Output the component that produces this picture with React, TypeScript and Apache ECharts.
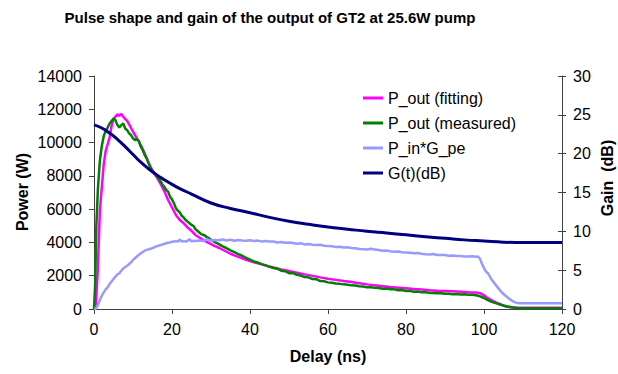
import React, { useEffect, useRef } from "react";
import * as echarts from "echarts";

// Delay (ns) and output power (W) of the fitted pulse
const fitting: [number, number][] = [
  [0, 0], [0.5, 300], [1, 2500], [1.5, 5900], [2, 7300], [2.5, 8700], [3, 9500], [3.5, 9900],
  [4, 10300], [4.5, 11000], [5, 11400], [5.5, 11550], [6, 11700], [6.5, 11600], [7, 11720],
  [7.5, 11550], [8, 11420], [8.5, 11300], [9, 11100], [10, 10650], [11, 10250], [12, 9850],
  [13, 9350], [14, 8800], [15, 8300], [16, 7950], [17, 7550], [18, 7100], [19, 6550], [20, 6100],
  [21, 5650], [22, 5350], [23, 5150], [24, 4900], [25, 4700], [26, 4450], [27, 4300], [28, 4150],
  [29, 4020], [30, 3900], [31, 3780], [32, 3680], [33, 3560], [34, 3440], [35, 3320], [36, 3220],
  [37, 3130], [38, 3050], [39, 2960], [40, 2880], [42, 2740], [44, 2620], [46, 2500], [48, 2380],
  [50, 2280], [52, 2180], [54, 2080], [56, 1990], [58, 1900], [60, 1820], [62, 1750], [64, 1680],
  [66, 1620], [68, 1550], [70, 1480], [72, 1420], [74, 1370], [76, 1320], [78, 1280], [80, 1240],
  [82, 1200], [84, 1170], [86, 1130], [88, 1100], [90, 1080], [92, 1060], [94, 1040], [96, 1010],
  [98, 990], [99, 950], [100, 820], [101, 650], [102, 520], [103, 400], [104, 300], [105, 200],
  [106, 140], [107, 100], [108, 90], [110, 80], [115, 80], [120, 80],
];

// Measured output power (W)
const measured: [number, number][] = [
  [0, 0], [0.3, 1500], [0.6, 5000], [1, 7200], [1.5, 8900], [2, 9800], [2.5, 10400], [3, 10700],
  [3.5, 10900], [4, 11150], [4.5, 11300], [5, 11450], [5.5, 11350], [6, 11050], [6.5, 10900],
  [7, 11050], [7.5, 11150], [8, 10850], [8.5, 10750], [9, 10550], [9.5, 10450], [10, 10250],
  [10.5, 10150], [11, 10200], [11.5, 10100], [12, 9750], [12.5, 9550], [13, 9250], [13.5, 9050],
  [14, 8750], [14.5, 8450], [15, 8300], [15.5, 8150], [16, 8050], [16.5, 7850], [17, 7700],
  [17.5, 7500], [18, 7350], [18.5, 7150], [19, 7050], [19.5, 6750], [20, 6600], [20.5, 6350],
  [21, 6050], [21.5, 5900], [22, 5800], [22.5, 5600], [23, 5500], [23.5, 5350], [24, 5250],
  [24.5, 5150], [25, 5050], [25.5, 5000], [26, 4800], [26.5, 4700], [27, 4600], [27.5, 4500],
  [28, 4450], [28.5, 4400], [29, 4300], [29.5, 4250], [30, 4150], [31, 4020], [32, 3900],
  [33, 3760], [34, 3650], [35, 3520], [36, 3420], [37, 3300], [38, 3200], [39, 3080], [40, 2960],
  [41, 2850], [42, 2790], [43, 2700], [44, 2620], [45, 2530], [46, 2460], [47, 2420], [48, 2300],
  [49, 2270], [50, 2150], [51, 2170], [52, 2050], [53, 2010], [54, 1920], [55, 1900], [56, 1800],
  [57, 1790], [58, 1680], [59, 1670], [60, 1600], [61, 1580], [62, 1530], [63, 1510], [64, 1480],
  [65, 1460], [66, 1420], [67, 1410], [68, 1370], [69, 1350], [70, 1300], [71, 1310], [72, 1270],
  [73, 1260], [74, 1220], [75, 1230], [76, 1190], [77, 1180], [78, 1130], [79, 1140], [80, 1080],
  [81, 1090], [82, 1040], [83, 1050], [84, 1000], [85, 1000], [86, 970], [87, 960], [88, 940],
  [89, 950], [90, 910], [91, 920], [92, 890], [93, 900], [94, 870], [95, 880], [96, 860],
  [97, 850], [98, 830], [99, 760], [100, 660], [101, 530], [102, 430], [103, 350], [104, 280],
  [105, 210], [106, 150], [107, 100], [108, 70], [109, 50], [110, 40], [120, 40],
];

// Input power times pump gain (W)
const inputGain: [number, number][] = [
  [0, 0], [0.5, 20], [1, 250], [1.5, 540], [2, 800], [2.5, 1000], [3, 1180], [3.5, 1300],
  [4, 1500], [4.5, 1650], [5, 1800], [5.5, 1950], [6, 2080], [6.5, 2150], [7, 2300], [7.5, 2430],
  [8, 2520], [8.5, 2600], [9, 2700], [9.5, 2800], [10, 2950], [10.5, 3050], [11, 3150],
  [11.5, 3250], [12, 3350], [12.5, 3420], [13, 3500], [13.5, 3560], [14, 3580], [14.5, 3620],
  [15, 3660], [15.5, 3720], [16, 3760], [16.5, 3800], [17, 3840], [17.5, 3880], [18, 3900],
  [18.5, 3950], [19, 3980], [19.5, 4000], [20, 4040], [20.5, 4050], [21, 4080], [21.5, 4050],
  [22, 4170], [22.5, 4060], [23, 4080], [23.5, 4050], [24, 4100], [24.5, 4200], [25, 4060],
  [25.5, 4100], [26, 4080], [27, 4120], [28, 4090], [29, 4200], [30, 4100], [31, 4150],
  [32, 4130], [33, 4180], [34, 4120], [35, 4160], [36, 4100], [37, 4150], [38, 4120], [39, 4100],
  [40, 4130], [41, 4090], [42, 4110], [43, 4060], [44, 4080], [45, 4050], [46, 4060], [47, 4000],
  [48, 4030], [49, 3980], [50, 4000], [51, 3960], [52, 3920], [53, 3950], [54, 3880], [55, 3900],
  [56, 3860], [57, 3840], [58, 3860], [59, 3800], [60, 3790], [61, 3770], [62, 3730], [63, 3740],
  [64, 3700], [65, 3710], [66, 3670], [67, 3650], [68, 3600], [69, 3590], [70, 3570], [71, 3620],
  [72, 3580], [73, 3540], [74, 3500], [75, 3510], [76, 3470], [77, 3440], [78, 3450], [79, 3410],
  [80, 3400], [81, 3380], [82, 3350], [83, 3370], [84, 3320], [85, 3290], [86, 3280], [87, 3300],
  [88, 3250], [89, 3240], [90, 3250], [91, 3200], [92, 3220], [93, 3190], [94, 3190], [95, 3160],
  [96, 3150], [97, 3170], [98, 3140], [98.5, 3150], [99, 3000], [99.5, 2700], [100, 2450],
  [100.5, 2250], [101, 2150], [102, 1750], [103, 1450], [104, 1150], [105, 900], [106, 700],
  [107, 520], [108, 400], [109, 340], [120, 340],
];

// Gain G(t) in dB, right axis
const gainDb: [number, number][] = [
  [0, 23.7], [2, 23.3], [4, 22.65], [6, 21.85], [8, 20.9], [10, 19.9], [12, 18.9], [14, 18.05],
  [16, 17.3], [18, 16.65], [20, 16.05], [22, 15.5], [25, 14.8], [30, 13.65], [35, 12.95],
  [40, 12.4], [45, 11.8], [50, 11.3], [55, 10.9], [60, 10.55], [65, 10.28], [70, 10.0],
  [75, 9.78], [80, 9.55], [85, 9.3], [90, 9.1], [95, 8.9], [100, 8.75], [105, 8.6], [110, 8.55],
  [120, 8.55],
];

const seriesNames = ["P_out (fitting)", "P_out (measured)", "P_in*G_pe", "G(t)(dB)"];
const seriesColors = ["#FF00FF", "#008000", "#9999FF", "#000080"];

const FONT = '"Liberation Sans", Arial, sans-serif';
const AXIS_COLOR = "#404040";

export default function App() {
  const ref = useRef<HTMLDivElement>(null);

  useEffect(() => {
    if (!ref.current) return;
    const chart = echarts.init(ref.current, undefined, { renderer: "svg" });
    const datasets = [fitting, measured, inputGain, gainDb];
    const widths = [2.5, 2.5, 2.5, 3];

    chart.setOption({
      animation: false,
      backgroundColor: "#ffffff",
      title: {
        text: "Pulse shape and gain of the output of GT2 at 25.6W pump",
        left: 265,
        top: 5,
        textAlign: "center",
        textStyle: { fontFamily: FONT, fontSize: 15, fontWeight: "bold", color: "#000" },
      },
      grid: { left: 94, right: 56, top: 76, bottom: 65 },
      legend: {
        orient: "vertical",
        left: 358,
        top: 85,
        icon: "rect",
        itemWidth: 20,
        itemHeight: 3,
        itemGap: 9,
        data: seriesNames,
        textStyle: { fontFamily: FONT, fontSize: 16, color: "#000" },
      },
      xAxis: {
        type: "value",
        min: 0,
        max: 120,
        interval: 20,
        axisLine: { lineStyle: { color: AXIS_COLOR, width: 1 } },
        axisTick: { show: true, length: 5, lineStyle: { color: AXIS_COLOR } },
        axisLabel: { fontFamily: FONT, fontSize: 16, color: "#000", margin: 12 },
        splitLine: { show: false },
      },
      yAxis: [
        {
          type: "value",
          min: 0,
          max: 14000,
          interval: 2000,
          position: "left",
          axisLine: { show: true, lineStyle: { color: AXIS_COLOR, width: 1 } },
          axisTick: { show: true, length: 5, lineStyle: { color: AXIS_COLOR } },
          axisLabel: {
            fontFamily: FONT,
            fontSize: 16,
            color: "#000",
            margin: 12,
            formatter: (v: number) => String(v),
          },
          splitLine: { show: false },
        },
        {
          type: "value",
          min: 0,
          max: 30,
          interval: 5,
          position: "right",
          axisLine: { show: true, lineStyle: { color: AXIS_COLOR, width: 1 } },
          axisTick: { show: true, length: 4, lineStyle: { color: AXIS_COLOR } },
          axisLabel: { fontFamily: FONT, fontSize: 16, color: "#000", margin: 11 },
          splitLine: { show: false },
        },
        {
          // inner half of the crossing ticks on the gain axis
          type: "value",
          min: 0,
          max: 30,
          interval: 5,
          position: "right",
          axisLine: { show: false },
          axisTick: { show: true, inside: true, length: 4, lineStyle: { color: AXIS_COLOR } },
          axisLabel: { show: false },
          splitLine: { show: false },
        },
      ],
      graphic: [
        {
          type: "text",
          x: 22,
          y: 192,
          rotation: Math.PI / 2,
          style: {
            text: "Power (W)",
            font: `bold 16px ${FONT}`,
            fill: "#000",
            textAlign: "center",
            textVerticalAlign: "middle",
          },
        },
        {
          type: "text",
          x: 607,
          y: 178,
          rotation: Math.PI / 2,
          style: {
            text: "Gain  (dB)",
            font: `bold 16px ${FONT}`,
            fill: "#000",
            textAlign: "center",
            textVerticalAlign: "middle",
          },
        },
        {
          type: "text",
          x: 328,
          y: 356,
          style: {
            text: "Delay (ns)",
            font: `bold 16px ${FONT}`,
            fill: "#000",
            textAlign: "center",
            textVerticalAlign: "middle",
          },
        },
      ],
      series: seriesNames.map((name, i) => ({
        name,
        type: "line",
        yAxisIndex: i === 3 ? 1 : 0,
        data: datasets[i],
        symbol: "none",
        smooth: i === 3,
        color: seriesColors[i],
        lineStyle: { color: seriesColors[i], width: widths[i] },
        z: 2 + i,
      })),
    });

    return () => chart.dispose();
  }, []);

  return (
    <div
      ref={ref}
      style={{ position: "fixed", left: 0, top: 0, width: 618, height: 374 }}
    />
  );
}
